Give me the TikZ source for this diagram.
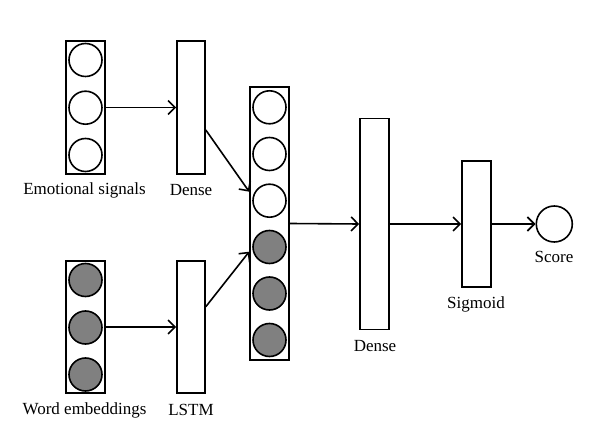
\documentclass[tikz,border=0pt]{standalone}
\usepackage{fontspec}
\setmainfont{Liberation Serif}
\usetikzlibrary{arrows.meta}
\definecolor{cellgray}{RGB}{128,128,128}
\tikzset{
  layerbox/.style={draw, line width=1.6pt, fill=white, minimum width=#1, inner sep=0pt},
  cell/.style={draw, circle, line width=1.6pt, minimum size=33pt, inner sep=0pt},
  filledcell/.style={cell, fill=cellgray},
  lbl/.style={font=\fontsize{17}{20}\selectfont, inner sep=0pt},
  arr/.style={line width=1.6pt, -{Straight Barb[length=7pt,width=14pt,line width=1.6pt]}}
}
\begin{document}
\begin{tikzpicture}[x=1pt,y=-1pt]
\useasboundingbox (0,0) rectangle (610,427);
% input boxes
\node[layerbox=39pt, minimum height=133pt] (emo) at (85.5,107.5) {};
\node[cell] (e1) at (85.5,60) {};
\node[cell] (e2) at (85.5,107.7) {};
\node[cell] (e3) at (85.5,155) {};
\node[layerbox=39pt, minimum height=132pt] (word) at (85.5,327) {};
\node[filledcell] (w1) at (85.5,280) {};
\node[filledcell] (w2) at (85.5,327.5) {};
\node[filledcell] (w3) at (85.5,374.5) {};
% second column
\node[layerbox=28pt, minimum height=133pt] (dense1) at (191,107.5) {};
\node[layerbox=28pt, minimum height=132pt] (lstm) at (191,327) {};
% merged
\node[layerbox=39pt, minimum height=273pt] (merged) at (269.5,223.5) {};
\node[cell] (m1) at (269.5,107.3) {};
\node[cell] (m2) at (269.5,154) {};
\node[cell] (m3) at (269.5,200.7) {};
\node[filledcell] (m4) at (269.5,247) {};
\node[filledcell] (m5) at (269.5,293.5) {};
\node[filledcell] (m6) at (269.5,340) {};
% right part
\node[layerbox=29pt, minimum height=211pt] (dense2) at (374.5,224) {};
\node[layerbox=29pt, minimum height=126pt] (sigmoid) at (476.5,224) {};
\node[draw, circle, line width=1.6pt, minimum size=36pt, inner sep=0pt] (score) at (554.3,224) {};
% labels
\node[lbl] (lemo) at (84.5,190) {Emotional signals};
\node[lbl] (ldense1) at (191,190) {Dense};
\node[lbl] (lword) at (84.5,410) {Word embeddings};
\node[lbl] (llstm) at (191,410) {LSTM};
\node[lbl] (ldense2) at (375,346) {Dense};
\node[lbl] (lsig) at (476,304) {Sigmoid};
\node[lbl] (lscore) at (554,257) {Score};
% arrows
\draw[arr] (emo.east) -- (dense1.west);
\draw[arr] (word.east) -- (lstm.west);
\draw[arr] ([yshift=-22.5pt]dense1.east) -- ([yshift=31.8pt]merged.west);
\draw[arr] ([yshift=20.3pt]lstm.east) -- ([yshift=-28.2pt]merged.west);
\draw[arr] (merged.east) -- (dense2.west);
\draw[arr] (dense2.east) -- (sigmoid.west);
\draw[arr] (sigmoid.east) -- (score.west);
\end{tikzpicture}
\end{document}
